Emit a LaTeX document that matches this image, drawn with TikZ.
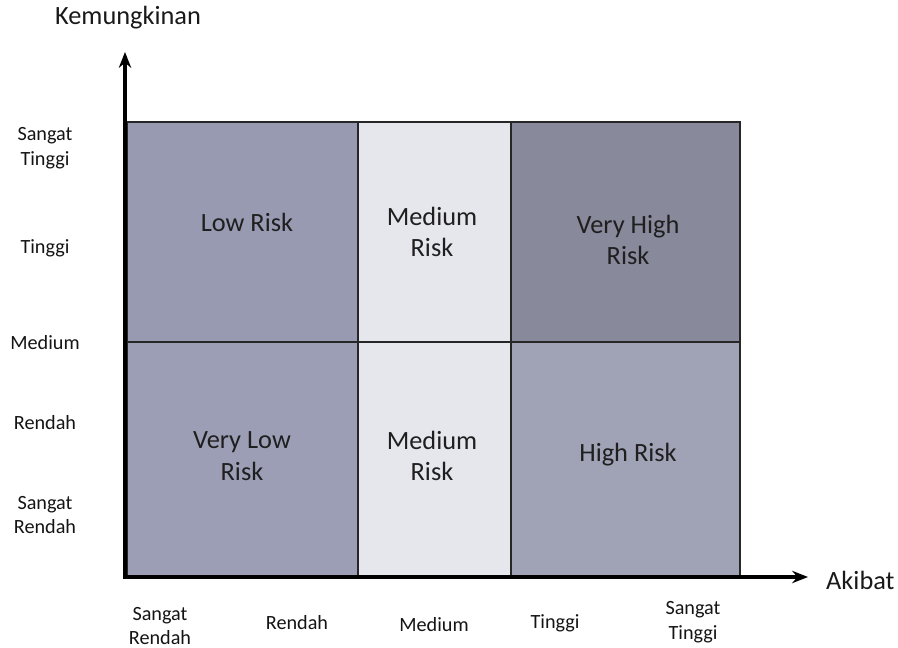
\documentclass[tikz,border=0pt]{standalone}
\usepackage{fontspec}
\setmainfont{Carlito}
\usepackage{tikz}
\usetikzlibrary{arrows.meta}
\definecolor{lowcol}{RGB}{152,154,178}
\definecolor{medcol}{RGB}{230,230,237}
\definecolor{vhighcol}{RGB}{136,138,156}
\definecolor{highcol}{RGB}{160,162,182}
\definecolor{vlowcol}{RGB}{156,158,182}
\tikzset{
axis/.style = {line width=1.8pt, -{Stealth[length=9pt, width=7pt]}},
cellline/.style = {draw=black!85, line width=0.8pt},
risk/.style = {font=\fontsize{15}{18}\selectfont, align=center, text=black!88},
tick/.style = {font=\fontsize{11.5}{14.2}\selectfont, align=center, text=black!92},
title/.style = {font=\fontsize{15}{18}\selectfont, text=black!90}
}
\begin{document}
\begin{tikzpicture}[x=0.02cm, y=-0.02cm]
    \useasboundingbox (0,0) rectangle (898,648);

    % cells of the matrix
    \fill[vlowcol] (127,342) rectangle (358,576);
    \fill[lowcol] (127,122) rectangle (358,342);
    \fill[medcol] (358,122) rectangle (511,576);
    \fill[vhighcol] (511,122) rectangle (740,342);
    \fill[highcol] (511,342) rectangle (740,576);
    \draw[cellline] (127,122) rectangle (740,576);
    \draw[cellline] (127,342) -- (740,342);
    \draw[cellline] (358,122) -- (358,576);
    \draw[cellline] (511,122) -- (511,576);

    \node[risk] (lowRisk) at (247,222) {Low Risk};
    \node[risk] (medRiskTop) at (432,232) {Medium\\Risk};
    \node[risk] (vhighRisk) at (628,240) {Very High\\Risk};
    \node[risk] (vlowRisk) at (242,456) {Very Low\\Risk};
    \node[risk] (medRiskBot) at (432,456) {Medium\\Risk};
    \node[risk] (highRisk) at (628,455) {High Risk};

    % axes
    \coordinate (origin) at (125,577);
    \coordinate (yEnd) at (125,52);
    \coordinate (xEnd) at (808,577);
    \draw[axis] (origin) -- (yEnd);
    \draw[axis] ([xshift=-1pt]origin) -- (xEnd);
    \node[title] (yTitle) at (128,18) {Kemungkinan};
    \node[title, anchor=west] (xTitle) at (820,580) {Akibat};

    % levels of Kemungkinan
    \node[tick] (yVeryHigh) at (45,148) {Sangat\\Tinggi};
    \node[tick] (yHigh) at (45,248) {Tinggi};
    \node[tick] (yMedium) at (45,343) {Medium};
    \node[tick] (yLow) at (45,423) {Rendah};
    \node[tick] (yVeryLow) at (45,515) {Sangat\\Rendah};

    % levels of Akibat
    \node[tick] (xVeryLow) at (160,626) {Sangat\\Rendah};
    \node[tick] (xLow) at (297,623) {Rendah};
    \node[tick] (xMedium) at (434,625) {Medium};
    \node[tick] (xHigh) at (555,623) {Tinggi};
    \node[tick] (xVeryHigh) at (693,622) {Sangat\\Tinggi};
\end{tikzpicture}
\end{document}
